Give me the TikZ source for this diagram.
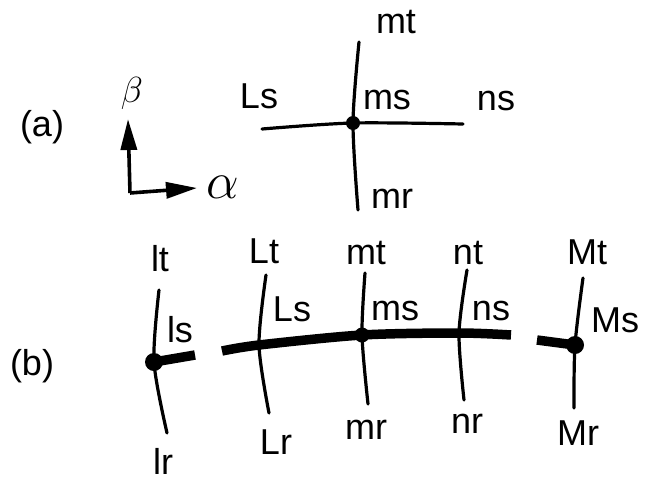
\documentclass[tikz,border=0pt]{standalone}
\usepackage{fontspec}
\setmainfont{Liberation Sans}
\usetikzlibrary{arrows.meta}
\begin{document}
\begin{tikzpicture}[x=1pt,y=-1pt,
  lbl/.style={inner sep=0pt,font=\fontsize{36}{40}\selectfont},
  greek/.style={inner sep=0pt,font=\fontsize{20}{24}\selectfont},
  wire/.style={line width=3.2pt,line cap=round},
  bar/.style={line width=9.5pt},
  axis/.style={line width=3.6pt,-{Triangle[length=31pt,width=16pt]}},
  joint/.style={circle,fill=black,inner sep=0pt}]
\useasboundingbox (0,0) rectangle (658,482);

% ---------------- (a) ----------------
\node[lbl] (la) at (42,127) {(a)};
\coordinate (org) at (130,193);
\coordinate (btip) at (128,119);
\coordinate (atip) at (197,188);
\draw[axis] (org) -- (btip);
\draw[axis] (org) -- (atip);
\node[greek,scale=1.75] (beta) at (132,93) {$\beta$};
\node[greek,scale=2.5] (alpha) at (223,187) {$\alpha$};

\coordinate (aW) at (262,129);
\coordinate (aE) at (463,124);
\coordinate (aT) at (359,42);
\coordinate (aB) at (358,210);
\node[joint,minimum size=14pt] (aC) at (353,123) {};
\draw[wire] plot[smooth] coordinates {(aW) (aC) (aE)};
\draw[wire] plot[smooth] coordinates {(aT) (aC) (aB)};
\node[lbl] (amt) at (396,22) {mt};
\node[lbl] (ams) at (387,100) {ms};
\node[lbl] (ans) at (496,101) {ns};
\node[lbl] (amr) at (392,199) {mr};
\node[lbl] (aLs) at (259,96) {Ls};

% ---------------- (b) ----------------
\node[lbl] (lb) at (32,366) {(b)};

% l cross
\coordinate (lT) at (159,290);
\coordinate (lB) at (167,433);
\coordinate (lE) at (195,355);
\node[joint,minimum size=18pt] (lC) at (154,362) {};
\draw[wire] plot[smooth] coordinates {(lT) (lC) (lB)};
\draw[bar] (lC.center) -- (lE);
\node[lbl] (blt) at (160,259) {lt};
\node[lbl] (bls) at (180,330) {ls};
\node[lbl] (blr) at (163,461) {lr};

% main thick line
\coordinate (sW) at (222,351);
\coordinate (LC) at (259,345);
\node[joint,minimum size=15pt] (mC) at (362,335) {};
\coordinate (nC) at (459,333);
\coordinate (sE) at (511,335);
\draw[bar] plot[smooth] coordinates {(sW) (LC) (mC.center) (nC) (sE)};

% L cross
\coordinate (LT) at (266,275);
\coordinate (LB) at (269,413);
\draw[wire] plot[smooth] coordinates {(LT) (LC) (LB)};
\node[lbl] (bLt) at (264,251) {Lt};
\node[lbl] (bLs) at (292,309) {Ls};
\node[lbl] (bLr) at (276,442) {Lr};

% m cross
\coordinate (mT) at (365,273);
\coordinate (mB) at (368,404);
\draw[wire] plot[smooth] coordinates {(mT) (mC) (mB)};
\node[lbl] (bmt) at (366,253) {mt};
\node[lbl] (bms) at (395,311) {ms};
\node[lbl] (bmr) at (366,430) {mr};

% n cross
\coordinate (nT) at (467,270);
\coordinate (nB) at (464,400);
\draw[wire] plot[smooth] coordinates {(nT) (nC) (nB)};
\node[lbl] (bnt) at (468,253) {nt};
\node[lbl] (bns) at (491,311) {ns};
\node[lbl] (bnr) at (467,424) {nr};

% M cross
\coordinate (MT) at (583,278);
\coordinate (MB) at (574,408);
\coordinate (MW) at (537,340);
\node[joint,minimum size=18pt] (MC) at (575,345) {};
\draw[wire] plot[smooth] coordinates {(MT) (MC) (MB)};
\draw[bar] (MW) -- (MC.center);
\node[lbl] (bMt) at (587,252) {Mt};
\node[lbl] (bMs) at (615,320) {Ms};
\node[lbl] (bMr) at (578,433) {Mr};
\end{tikzpicture}
\end{document}
